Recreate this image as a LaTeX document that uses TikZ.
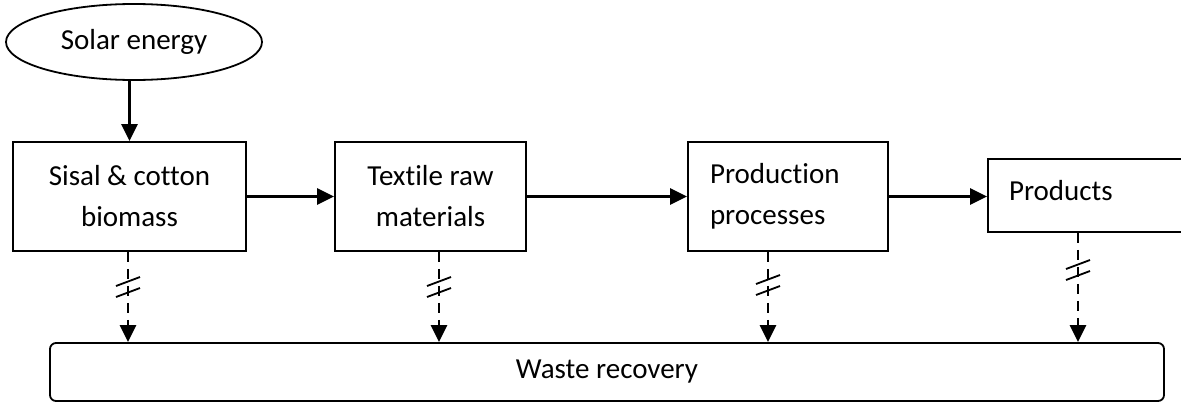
\documentclass[tikz,border=0pt]{standalone}
\usepackage{fontspec}
\setmainfont{Carlito}[Ligatures=NoCommon]
\usetikzlibrary{arrows.meta,shapes.geometric}

\begin{document}
\begin{tikzpicture}[line join=miter,>={Triangle[length=8.5pt,width=8pt]},x=0.5pt,y=-0.5pt,
  every node/.style={font=\fontsize{14.5}{20.5}\selectfont,inner sep=0pt},
  stage/.style={draw,line width=0.9pt,align=center,minimum height=54.5pt},
  flow/.style={->,line width=1.3pt},
  recov/.style={->,line width=1.4pt,dash pattern=on 5pt off 3.5pt},
  cut/.style={line width=0.9pt}]
\useasboundingbox (0,0) rectangle (1181,402);
\clip (0,0) rectangle (1181,402);
\node[draw,ellipse,line width=0.9pt,minimum width=128pt,minimum height=38pt] (solar) at (134,42) {Solar energy};
\node[stage,minimum width=116.5pt] (biomass) at (129.5,196.5) {Sisal \& cotton\\biomass};
\node[stage,minimum width=95.5pt] (textile) at (430.5,196.5) {Textile raw\\materials};
\node[stage,text width=78pt,inner xsep=11pt,align=left] (production) at (788,196.5) {Production\\processes};
\node[draw,line width=0.9pt,text width=90pt,inner xsep=10.5pt,align=left,text height=10pt,text depth=5.5pt,minimum height=36.5pt] (products) at (1099,195.5) {Products};
\node[draw,rounded corners=3pt,line width=0.9pt,minimum width=557pt,minimum height=29pt] (waste) at (607,372) {Waste recovery};
% main chain
\draw[flow] (solar.south -| biomass.north) -- (biomass.north);
\draw[flow] (biomass) -- (textile);
\draw[flow] (textile) -- (production);
\draw[flow] (production.east) -- (production.east -| products.west);
% waste streams
\foreach \n/\x/\m in {biomass/128/287,textile/439/287,production/768/285,products/1078/270}{
  \draw[recov] (\x,0 |- \n.south) -- (\x,0 |- waste.north);
  \draw[cut] (\x-12,\m-1) -- (\x+12,\m-10);
  \draw[cut] (\x-12,\m+10) -- (\x+12,\m+1);
}
\end{tikzpicture}
\end{document}
